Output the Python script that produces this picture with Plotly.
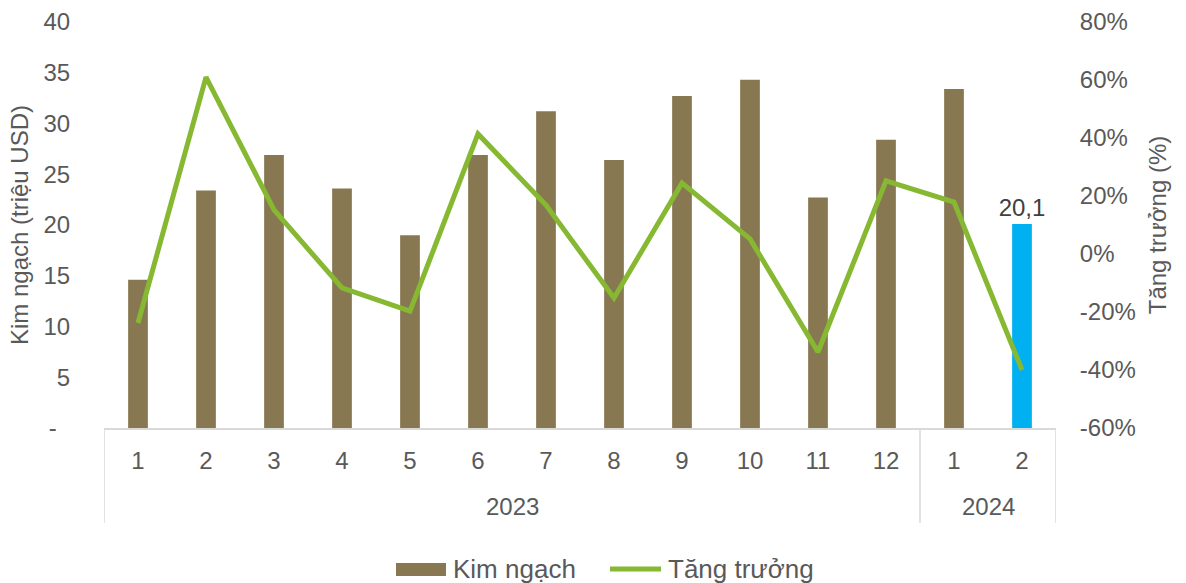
import plotly.graph_objects as go

# Monthly export turnover (million USD) and year-on-year growth
years = ["2023"] * 12 + ["2024"] * 2
months = ["1", "2", "3", "4", "5", "6", "7", "8", "9", "10", "11", "12", "1", "2"]
kim_ngach = [14.6, 23.4, 26.9, 23.6, 19.0, 26.9, 31.2, 26.4, 32.7, 34.3, 22.7, 28.4, 33.4, 20.1]
tang_truong = [-23.8, 61.0, 15.2, -11.7, -19.7, 41.4, 16.9, -15.2, 24.5, 5.2, -33.8, 25.2, 17.9, -40.0]

left_ticks = [0, 5, 10, 15, 20, 25, 30, 35, 40]
left_labels = ["-\u00a0\u00a0", "5", "10", "15", "20", "25", "30", "35", "40"]
right_ticks = [-60, -40, -20, 0, 20, 40, 60, 80]
right_labels = [f"{v}%" for v in right_ticks]

BROWN = "#877852"
BLUE = "#00B0F0"
GREEN = "#86B832"
TEXT = "#595959"
GRID = "#D9D9D9"
FONT = "Liberation Sans, Arial, sans-serif"
FS = 24

W, H = 1186, 583
ML, MR, MT, MB = 104, 130, 22, 155
PW, PH = W - ML - MR, H - MT - MB


def px(x):
    """Pixel column -> paper x."""
    return (x - ML) / PW


def py(y):
    """Pixel row -> paper y."""
    return (H - MB - y) / PH


idx = list(range(len(months)))
bar_colors = [BROWN] * (len(kim_ngach) - 1) + [BLUE]
bar_text = [""] * (len(kim_ngach) - 1) + [f"{kim_ngach[-1]:.1f}".replace(".", ",")]

fig = go.Figure()
fig.add_trace(go.Bar(
    x=idx, y=kim_ngach, name="Kim ngạch", width=0.29,
    marker=dict(color=bar_colors, line=dict(width=0)),
    text=bar_text, textposition="outside", cliponaxis=False, constraintext="none",
    textfont=dict(size=FS, color="#404040", family=FONT),
    showlegend=False,
))
fig.add_trace(go.Scatter(
    x=idx, y=tang_truong, name="Tăng trưởng", yaxis="y2",
    mode="lines", line=dict(color=GREEN, width=5), showlegend=False,
))

shapes = []
annotations = []

# Year groups under the month labels, separated by vertical dividers
groups = []
for i, yr in enumerate(years):
    if not groups or groups[-1][0] != yr:
        groups.append([yr, i, i])
    else:
        groups[-1][2] = i
bounds = [groups[0][1] - 0.5] + [g[2] + 0.5 for g in groups]
for b in bounds:
    shapes.append(dict(type="line", xref="x", yref="paper", x0=b, x1=b, y0=0, y1=py(523),
                       line=dict(color=GRID, width=1.5)))
for yr, i0, i1 in groups:
    annotations.append(dict(x=(i0 + i1) / 2, y=py(507), xref="x", yref="paper", text=yr,
                            showarrow=False, yanchor="middle", xanchor="center",
                            font=dict(size=FS, color=TEXT, family=FONT)))

# Legend drawn below the chart
shapes.append(dict(type="rect", xref="paper", yref="paper", x0=px(396), x1=px(446),
                   y0=py(576), y1=py(563), fillcolor=BROWN, line=dict(width=0)))
annotations.append(dict(x=px(451), y=py(569), xref="paper", yref="paper", text="Kim ngạch",
                        showarrow=False, xanchor="left", yanchor="middle",
                        font=dict(size=26, color=TEXT, family=FONT)))
shapes.append(dict(type="line", xref="paper", yref="paper", x0=px(610), x1=px(661),
                   y0=py(569), y1=py(569), line=dict(color=GREEN, width=5)))
annotations.append(dict(x=px(666), y=py(569), xref="paper", yref="paper", text="Tăng trưởng",
                        showarrow=False, xanchor="left", yanchor="middle",
                        font=dict(size=26, color=TEXT, family=FONT)))

fig.update_layout(
    width=W, height=H,
    margin=dict(l=ML, r=MR, t=MT, b=MB),
    paper_bgcolor="white", plot_bgcolor="white",
    font=dict(family=FONT, size=FS, color=TEXT),
    showlegend=False,
    shapes=shapes, annotations=annotations,
    xaxis=dict(
        range=[-0.5, len(months) - 0.5], tickvals=idx, ticktext=months,
        showline=True, linecolor=GRID, linewidth=1.5, showgrid=False, zeroline=False,
        ticks="outside", ticklen=10, tickcolor="rgba(0,0,0,0)",
        tickfont=dict(size=FS, color=TEXT), automargin=False,
    ),
    yaxis=dict(
        range=[0, 40], tickvals=left_ticks, ticktext=left_labels, showgrid=False,
        zeroline=False, ticks="outside", ticklen=28, tickcolor="rgba(0,0,0,0)",
        tickfont=dict(size=FS, color=TEXT), automargin=False,
        title=dict(text="Kim ngạch (triệu USD)", font=dict(size=FS, color=TEXT), standoff=8),
    ),
    yaxis2=dict(
        range=[-60, 80], tickvals=right_ticks, ticktext=right_labels, overlaying="y",
        side="right", showgrid=False, zeroline=False, ticks="outside", ticklen=18,
        tickcolor="rgba(0,0,0,0)", tickfont=dict(size=FS, color=TEXT), automargin=False,
        title=dict(text="Tăng trưởng (%)", font=dict(size=FS, color=TEXT), standoff=14),
    ),
)

fig.write_html("out.html")
